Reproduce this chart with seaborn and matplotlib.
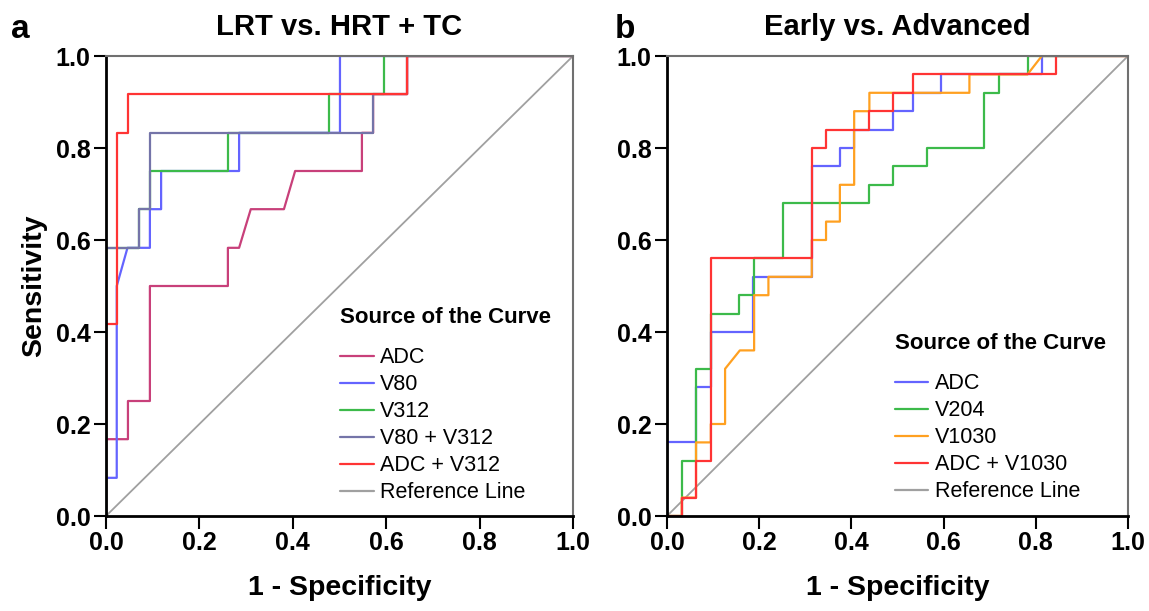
import numpy as np
import pandas as pd
import matplotlib
matplotlib.use("Agg")
import matplotlib.pyplot as plt
import seaborn as sns

# panel a: LRT vs. HRT + TC  (step points)
a_names = ["ADC", "V80", "V312", "V80 + V312", "ADC + V312"]
a_adc_x = [0, 0, 0.047, 0.047, 0.094, 0.094, 0.261, 0.261, 0.285, 0.31, 0.381, 0.405, 0.548, 0.548, 0.572, 0.572, 0.645, 0.645, 1]
a_adc_y = [0, 0.167, 0.167, 0.25, 0.25, 0.5, 0.5, 0.583, 0.583, 0.667, 0.667, 0.75, 0.75, 0.833, 0.833, 0.917, 0.917, 1, 1]
a_v80_x = [0, 0, 0.023, 0.023, 0.046, 0.094, 0.094, 0.118, 0.118, 0.285, 0.285, 0.501, 0.501, 1]
a_v80_y = [0, 0.083, 0.083, 0.5, 0.583, 0.583, 0.667, 0.667, 0.75, 0.75, 0.833, 0.833, 1, 1]
a_v312_x = [0, 0, 0.071, 0.071, 0.094, 0.094, 0.261, 0.261, 0.478, 0.478, 0.595, 0.595, 1]
a_v312_y = [0, 0.583, 0.583, 0.667, 0.667, 0.75, 0.75, 0.833, 0.833, 0.917, 0.917, 1, 1]
a_v80v312_x = [0, 0, 0.071, 0.071, 0.094, 0.094, 0.572, 0.572, 0.645, 0.645, 1]
a_v80v312_y = [0, 0.583, 0.583, 0.667, 0.667, 0.833, 0.833, 0.917, 0.917, 1, 1]
a_adcv312_x = [0, 0, 0.023, 0.023, 0.047, 0.047, 0.645, 0.645, 1]
a_adcv312_y = [0, 0.417, 0.417, 0.833, 0.833, 0.917, 0.917, 1, 1]
a_colors = ["#c8407a", "#6464ff", "#3cba4a", "#7474a8", "#ff3434"]

# panel b: Early vs. Advanced
b_names = ["ADC", "V204", "V1030", "ADC + V1030"]
b_adc_x = [0, 0, 0.063, 0.063, 0.095, 0.095, 0.187, 0.187, 0.314, 0.314, 0.375, 0.375, 0.406, 0.406,
           0.49, 0.49, 0.533, 0.533, 0.594, 0.594, 0.813, 0.813, 1]
b_adc_y = [0, 0.16, 0.16, 0.28, 0.28, 0.4, 0.4, 0.52, 0.52, 0.76, 0.76, 0.8, 0.8, 0.84,
           0.84, 0.88, 0.88, 0.92, 0.92, 0.96, 0.96, 1, 1]
b_v204_x = [0, 0.032, 0.032, 0.063, 0.063, 0.095, 0.095, 0.157, 0.157, 0.189, 0.189, 0.252, 0.252,
            0.439, 0.439, 0.491, 0.491, 0.563, 0.563, 0.688, 0.688, 0.72, 0.72, 0.782, 0.782, 1]
b_v204_y = [0, 0, 0.12, 0.12, 0.32, 0.32, 0.44, 0.44, 0.48, 0.48, 0.56, 0.56, 0.68,
            0.68, 0.72, 0.72, 0.76, 0.76, 0.8, 0.8, 0.92, 0.92, 0.96, 0.96, 1, 1]
b_v1030_x = [0, 0.032, 0.032, 0.063, 0.063, 0.095, 0.095, 0.126, 0.126, 0.158, 0.189, 0.189, 0.22, 0.22,
             0.314, 0.314, 0.345, 0.345, 0.375, 0.375, 0.406, 0.406, 0.439, 0.439, 0.656, 0.656,
             0.782, 0.813, 1]
b_v1030_y = [0, 0, 0.04, 0.04, 0.16, 0.16, 0.2, 0.2, 0.32, 0.36, 0.36, 0.48, 0.48, 0.52,
             0.52, 0.6, 0.6, 0.64, 0.64, 0.72, 0.72, 0.88, 0.88, 0.92, 0.92, 0.96,
             0.96, 1, 1]
b_adcv1030_x = [0, 0.032, 0.032, 0.063, 0.063, 0.095, 0.095, 0.314, 0.314, 0.345, 0.345, 0.439, 0.439,
                0.49, 0.49, 0.533, 0.533, 0.844, 0.844, 1]
b_adcv1030_y = [0, 0, 0.04, 0.04, 0.12, 0.12, 0.56, 0.56, 0.8, 0.8, 0.84, 0.84, 0.88,
                0.88, 0.92, 0.92, 0.96, 0.96, 1, 1]
b_colors = ["#6464ff", "#3cba4a", "#ffa020", "#ff3434"]

ticks = [0.0, 0.2, 0.4, 0.6, 0.8, 1.0]


def long_frame(names, xs, ys):
    parts = []
    for name, x, y in zip(names, xs, ys):
        parts.append(pd.DataFrame({"fpr": x, "tpr": y, "curve": name}))
    return pd.concat(parts, ignore_index=True)


sns.set_style("white")
plt.rcParams["font.family"] = ["Liberation Sans", "DejaVu Sans"]
plt.rcParams["text.color"] = "black"
plt.rcParams["axes.labelcolor"] = "black"
plt.rcParams["xtick.color"] = "black"
plt.rcParams["ytick.color"] = "black"

fig = plt.figure(figsize=(11.49, 6.11), dpi=100)
ax_a = fig.add_axes([106 / 1149, 95 / 611, 467 / 1149, 460 / 611])
ax_b = fig.add_axes([667 / 1149, 95 / 611, 461 / 1149, 460 / 611])

panels = [
    (ax_a, long_frame(a_names, [a_adc_x, a_v80_x, a_v312_x, a_v80v312_x, a_adcv312_x],
                      [a_adc_y, a_v80_y, a_v312_y, a_v80v312_y, a_adcv312_y]),
     a_names, a_colors, "LRT vs. HRT + TC", (0.479, 0.478)),
    (ax_b, long_frame(b_names, [b_adc_x, b_v204_x, b_v1030_x, b_adcv1030_x],
                      [b_adc_y, b_v204_y, b_v1030_y, b_adcv1030_y]),
     b_names, b_colors, "Early vs. Advanced", (0.471, 0.422)),
]

for ax, df, names, colors, title, anchor in panels:
    ax.plot([0, 1], [0, 1], color="#a0a0a0", lw=1.3, label="Reference Line", zorder=1)
    sns.lineplot(data=df, x="fpr", y="tpr", hue="curve", hue_order=names,
                 palette=colors, sort=False, estimator=None, lw=1.6, ax=ax, legend=True)
    ax.set_xlim(0, 1)
    ax.set_ylim(0, 1)
    ax.set_xticks(ticks)
    ax.set_yticks(ticks)
    ax.set_xticklabels([f"{t:.1f}" for t in ticks], fontsize=18, fontweight="bold")
    ax.set_yticklabels([f"{t:.1f}" for t in ticks], fontsize=18, fontweight="bold")
    ax.tick_params(direction="out", length=9, width=1.5, colors="black", pad=2,
                   bottom=True, left=True)
    for side in ["left", "bottom"]:
        ax.spines[side].set_color("black")
        ax.spines[side].set_linewidth(2)
    for side in ["top", "right"]:
        ax.spines[side].set_color("#707070")
        ax.spines[side].set_linewidth(1.5)
    ax.set_xlabel("1 - Specificity", fontsize=20.5, fontweight="bold", labelpad=14)
    ax.set_ylabel("")
    ax.set_title(title, fontsize=21, fontweight="bold", pad=15, color="black")

    handles, labels = ax.get_legend_handles_labels()
    order = [labels.index(n) for n in names] + [labels.index("Reference Line")]
    leg = ax.legend([handles[i] for i in order], [labels[i] for i in order],
                    title="Source of the Curve", loc="upper left", bbox_to_anchor=anchor,
                    frameon=False, fontsize=15.5, title_fontsize=16,
                    handlelength=1.55, handletextpad=0.3, labelspacing=0.28,
                    borderpad=0, alignment="left", labelcolor="black")
    leg.get_title().set_fontweight("bold")
    leg.get_title().set_color("black")
    leg._legend_box.sep = 14
    for line in leg.get_lines():
        line.set_linewidth(1.6)

ax_a.set_ylabel("Sensitivity", fontsize=20.5, fontweight="bold", labelpad=6)
fig.text(20 / 1149, 1 - 29 / 611, "a", fontsize=24, fontweight="bold", va="center", ha="center")
fig.text(625 / 1149, 1 - 29 / 611, "b", fontsize=24, fontweight="bold", va="center", ha="center")

fig.savefig("out.png", dpi=100)
